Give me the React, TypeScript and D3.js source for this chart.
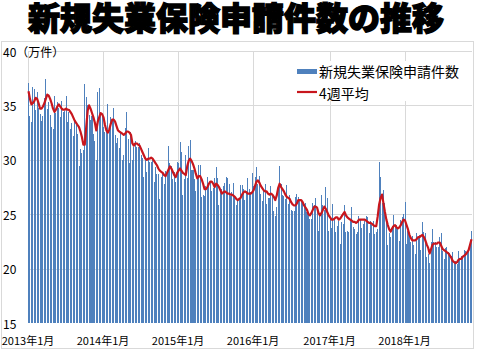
import React from 'react';
import * as d3 from 'd3';

const width = 477;
const height = 350;
const margin = { top: 51, right: 5, bottom: 27, left: 28 };
const blue = '#4f81bd';
const red = '#c8161d';
const grid = '#d9d9d9';
const font = "'Noto Sans CJK JP', 'Noto Sans', sans-serif";

const title = '新規失業保険申請件数の推移';
const seriesNames = ['新規失業保険申請件数', '4週平均'];
const yTicks = [15, 20, 25, 30, 35, 40];
const yUnit = '（万件）';
const xTickLabels = ['2013年1月', '2014年1月', '2015年1月', '2016年1月', '2017年1月', '2018年1月'];

// weekly initial claims (万件), one array per year
const claims2013 = [37.1, 34.0, 33.5, 36.7, 36.5, 34.6, 36.2, 34.8, 34.2, 33.6, 34.0, 35.7, 37.4, 34.7, 35.3, 34.1, 33.0, 32.8, 35.9, 34.3, 35.3, 34.8, 33.9, 35.4, 34.4, 34.5, 35.9, 33.5, 34.4, 32.8, 33.4, 32.2, 33.7, 33.2, 32.4, 29.4, 31.0, 30.6, 30.9, 37.0, 35.8, 35.0, 34.1, 33.7, 34.0, 32.4, 31.7, 30.0, 36.2, 36.6, 34.0, 34.2];
const claims2014 = [33.0, 32.6, 32.9, 35.1, 33.1, 33.9, 33.6, 34.8, 32.3, 31.5, 32.0, 31.1, 32.6, 30.0, 30.4, 32.9, 34.4, 31.9, 29.7, 32.6, 30.0, 31.2, 31.7, 31.2, 31.2, 31.5, 30.4, 30.2, 28.4, 30.2, 28.9, 31.1, 29.8, 29.8, 30.2, 28.0, 29.3, 28.7, 28.7, 26.4, 28.4, 28.8, 27.8, 29.0, 29.1, 31.3, 29.7, 29.4, 28.2, 28.9, 28.0, 29.8];
const claims2015 = [29.7, 31.6, 30.7, 26.8, 28.2, 30.4, 28.3, 31.3, 31.8, 29.1, 29.1, 28.2, 27.1, 28.2, 29.5, 29.5, 26.6, 26.8, 26.7, 27.6, 28.4, 27.8, 28.0, 27.1, 27.4, 28.3, 29.3, 28.3, 25.8, 27.0, 27.3, 27.6, 27.9, 28.4, 28.3, 27.8, 26.7, 27.0, 27.9, 26.6, 25.8, 26.2, 26.4, 27.7, 27.7, 27.3, 26.3, 27.1, 28.3, 27.3, 27.0, 28.8];
const claims2016 = [27.6, 28.4, 29.3, 27.8, 28.5, 26.9, 26.2, 27.2, 27.8, 25.9, 26.5, 26.5, 27.6, 26.7, 25.3, 24.8, 25.7, 27.4, 29.4, 27.8, 26.8, 26.7, 26.4, 27.7, 25.9, 26.8, 25.4, 25.3, 25.3, 26.6, 26.9, 26.6, 26.2, 26.1, 25.9, 25.9, 26.0, 25.2, 24.9, 24.6, 24.6, 26.0, 25.8, 26.5, 25.4, 23.5, 25.1, 26.8, 25.8, 25.4, 27.5, 26.5, 23.5];
const claims2017 = [24.7, 23.7, 25.9, 24.6, 23.4, 23.9, 24.4, 22.3, 24.3, 24.1, 25.8, 23.4, 23.5, 23.4, 24.4, 25.7, 23.8, 23.6, 23.2, 23.4, 24.8, 24.5, 23.7, 24.1, 24.4, 24.8, 24.7, 23.3, 24.4, 24.0, 24.4, 23.2, 23.4, 23.6, 29.8, 28.4, 26.0, 27.2, 26.0, 24.4, 22.2, 23.3, 22.9, 23.9, 24.9, 23.8, 24.0, 23.6, 22.5, 24.5, 24.7, 25.0];
const claims2018 = [26.1, 22.3, 23.5, 23.2, 22.4, 23.0, 22.2, 21.3, 23.3, 22.8, 23.1, 21.7, 24.3, 23.4, 23.3, 21.1, 21.3, 20.5, 22.4, 23.6, 22.4, 22.4, 22.0, 22.0, 22.9, 23.3, 21.6, 20.9, 21.9, 22.0, 21.5, 21.4, 21.2, 21.5, 20.6, 20.7, 20.4, 21.6, 20.9, 21.2, 21.2, 21.7, 21.6, 21.6, 21.8, 22.6, 23.5];

// 4-week average (万件)
const avg2013 = [36.3, 35.6, 35.1, 35.2, 35.4, 35.7, 35.6, 35.2, 34.7, 34.7, 34.9, 35.2, 35.6, 36.0, 35.9, 35.6, 35.2, 34.7, 34.4, 34.6, 34.9, 35.1, 34.9, 34.7, 34.6, 34.6, 34.7, 34.6, 34.6, 34.4, 34.2, 33.9, 33.6, 33.4, 33.2, 33.0, 32.6, 32.1, 31.4, 31.4, 33.0, 34.5, 35.0, 34.7, 34.3, 33.9, 33.4, 32.7, 33.5, 33.9, 34.3, 34.2];
const avg2014 = [33.9, 33.2, 32.7, 32.5, 32.8, 33.3, 33.7, 33.7, 33.5, 33.1, 32.7, 32.6, 32.5, 32.4, 32.3, 32.4, 32.6, 32.6, 32.5, 32.3, 31.5, 31.3, 31.5, 31.5, 31.4, 31.3, 31.0, 30.7, 30.4, 30.1, 30.0, 30.1, 30.1, 30.2, 30.1, 29.9, 29.7, 29.5, 29.2, 29.0, 28.9, 28.8, 28.6, 28.5, 28.8, 29.1, 29.4, 29.2, 28.9, 28.6, 28.4, 28.8];
const avg2015 = [29.0, 29.2, 29.0, 28.8, 28.7, 28.6, 29.4, 29.9, 30.1, 29.9, 29.6, 29.2, 28.7, 28.3, 28.5, 28.5, 28.2, 27.8, 27.3, 27.3, 27.5, 27.8, 28.0, 28.0, 27.8, 27.5, 27.8, 27.7, 27.5, 27.2, 26.9, 27.0, 27.1, 27.0, 26.9, 26.9, 26.8, 26.8, 26.7, 26.6, 26.4, 26.3, 26.4, 26.5, 26.8, 27.0, 27.1, 27.0, 26.9, 26.9, 26.9, 27.0];
const avg2016 = [27.2, 27.6, 28.0, 28.1, 27.9, 27.6, 27.4, 27.2, 27.1, 27.1, 26.9, 26.8, 26.9, 26.8, 26.6, 26.3, 26.7, 27.4, 27.8, 27.5, 27.3, 27.1, 26.8, 26.6, 26.5, 26.4, 26.1, 25.9, 25.8, 25.8, 26.0, 26.3, 26.3, 26.3, 26.1, 25.8, 25.6, 25.4, 25.0, 24.9, 25.1, 25.4, 25.7, 25.7, 25.6, 25.1, 24.9, 25.1, 25.4, 25.7, 25.5, 25.2, 24.9];
const avg2017 = [24.7, 24.5, 24.5, 24.6, 24.7, 24.7, 24.5, 24.6, 24.8, 25.0, 25.2, 24.9, 24.7, 24.6, 24.5, 24.4, 24.3, 24.3, 24.2, 24.3, 24.5, 24.5, 24.5, 24.5, 24.5, 24.4, 24.3, 24.2, 24.2, 24.1, 24.0, 23.9, 23.9, 24.8, 25.9, 26.5, 26.8, 26.0, 25.2, 24.5, 24.0, 23.6, 23.4, 23.7, 23.9, 24.0, 23.8, 23.7, 23.8, 24.0, 24.3, 24.5];
const avg2018 = [24.4, 24.0, 23.6, 23.1, 22.8, 22.6, 22.6, 22.6, 22.7, 22.9, 22.9, 23.0, 23.1, 22.9, 22.6, 22.2, 21.9, 21.4, 21.8, 22.2, 22.3, 22.3, 22.3, 22.4, 22.4, 22.1, 21.8, 21.7, 21.6, 21.5, 21.4, 21.2, 21.0, 20.7, 20.6, 20.5, 20.6, 20.8, 20.9, 20.9, 21.1, 21.2, 21.3, 21.5, 21.7, 22.2, 22.7];

const claimsByYear = [claims2013, claims2014, claims2015, claims2016, claims2017, claims2018];
const claims = claimsByYear.flat();
const avg4w = [avg2013, avg2014, avg2015, avg2016, avg2017, avg2018].flat();
// index of the first week of each year
const yearStarts = claimsByYear.map((_, k) => d3.sum(claimsByYear.slice(0, k), a => a.length));

export default function App() {
  const x = d3.scaleBand<number>()
    .domain(d3.range(claims.length))
    .range([margin.left, width - margin.right])
    .paddingInner(0.3)
    .paddingOuter(0);
  const y = d3.scaleLinear().domain([15, 40]).range([323, margin.top]);
  const bw = x.bandwidth();

  const line = d3.line<number>()
    .x((_, i) => (x(i) as number) + bw / 2)
    .y(d => y(d));

  return (
    <svg width={width} height={height} style={{ position: 'absolute', left: 0, top: 0, background: '#fff' }}>
      <rect x={0} y={0} width={width} height={height} fill="#fff" />
      <text x={236} y={30} textAnchor="middle" fontFamily={font} fontSize={32} fontWeight={900}
        fill="#000" stroke="#000" strokeWidth={1.4}>{title}</text>
      <rect x={1.5} y={41.5} width={472} height={307} fill="none" stroke={grid} />

      {/* grid */}
      <g stroke={grid} strokeWidth={1}>
        {yTicks.filter(t => t > 15).map(t => (
          <line key={t} x1={margin.left} x2={width - margin.right} y1={Math.round(y(t)) + 0.5} y2={Math.round(y(t)) + 0.5} />
        ))}
        {yearStarts.map(s => {
          const gx = Math.round(x(s) as number) + 0.5;
          return <line key={s} x1={gx} x2={gx} y1={y(40)} y2={y(15)} />;
        })}
      </g>

      {/* bars */}
      <g fill={blue} shapeRendering="crispEdges">
        {claims.map((v, i) => (
          <rect key={i} x={x(i)} y={y(v)} width={bw} height={y(15) - y(v)} />
        ))}
      </g>

      <path d={line(avg4w) || ''} fill="none" stroke={red} strokeWidth={2.2} strokeLinejoin="round" />

      {/* y axis labels */}
      <g fontFamily={font} fontSize={12} fill="#000">
        {yTicks.map(t => (
          <text key={t} x={3} y={y(t)} dominantBaseline="central">{t === 40 ? `${t}${yUnit}` : t}</text>
        ))}
      </g>

      {/* x axis labels */}
      <g fontFamily={font} fontSize={11} fill="#000" textAnchor="middle">
        {yearStarts.map((s, k) => (
          <text key={s} x={x(s) as number} y={340} dominantBaseline="central">{xTickLabels[k]}</text>
        ))}
      </g>

      {/* legend */}
      <rect x={294} y={61} width={168} height={40} fill="#fff" />
      <rect x={297} y={69} width={20} height={5} fill={blue} />
      <line x1={297} x2={317} y1={92} y2={92} stroke={red} strokeWidth={2.2} />
      <g fontFamily={font} fontSize={14} fill="#000">
        <text x={319} y={71} dominantBaseline="central">{seriesNames[0]}</text>
        <text x={319} y={93} dominantBaseline="central">{seriesNames[1]}</text>
      </g>
    </svg>
  );
}
